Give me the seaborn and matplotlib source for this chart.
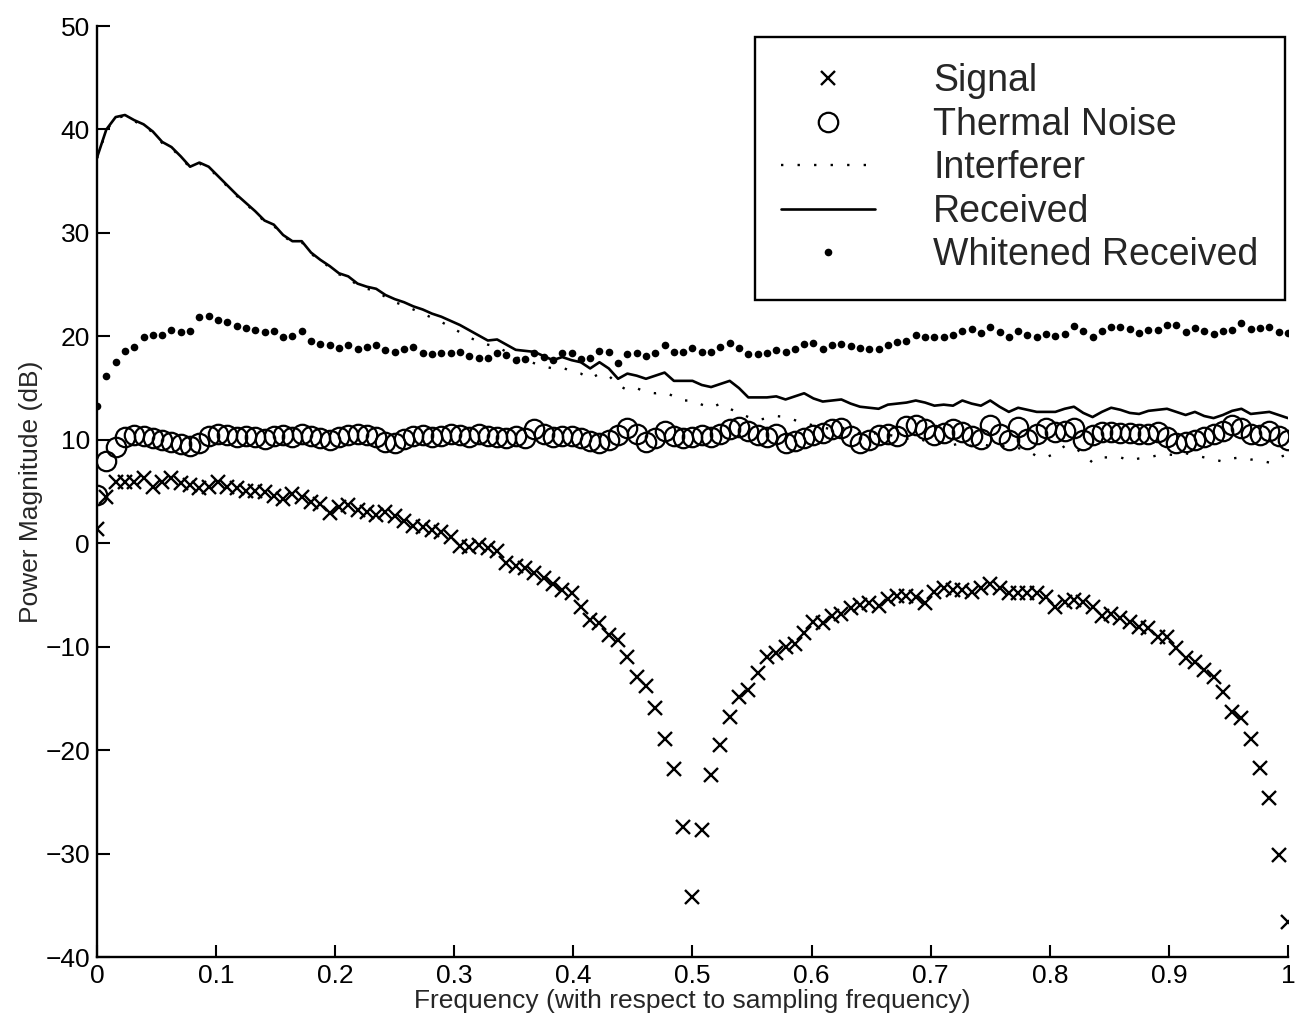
import numpy as np
import pandas as pd
import matplotlib
matplotlib.use('Agg')
import matplotlib.pyplot as plt
import seaborn as sns

# 129 frequency bins from 0 to 1 (normalised to the sampling frequency)
freq = np.linspace(0, 1, 129)

signal = [
    1.4, 4.5, 5.9, 5.9, 5.9, 6.3, 5.4, 5.9, 6.3, 5.8,
    5.6, 5.3, 5.4, 5.9, 5.4, 5.3, 5.1, 5.1, 5.0, 4.6,
    4.3, 4.8, 4.5, 4.0, 3.8, 2.9, 3.5, 3.7, 3.2, 3.0,
    2.7, 3.0, 2.6, 2.2, 1.7, 1.6, 1.3, 1.1, 0.6, -0.3,
    -0.4, -0.2, -0.5, -0.7, -1.9, -2.2, -2.4, -2.9, -3.4, -3.9,
    -4.5, -4.8, -6.2, -7.4, -7.7, -8.9, -9.4, -11.0, -12.9, -13.8,
    -15.9, -18.9, -21.8, -27.4, -34.2, -27.7, -22.4, -19.5, -16.8, -14.9,
    -14.2, -12.5, -11.0, -10.6, -10.0, -9.7, -8.7, -7.6, -7.7, -7.0,
    -6.8, -6.3, -6.0, -5.8, -6.1, -5.4, -5.1, -5.1, -5.2, -5.8,
    -4.7, -4.3, -4.5, -4.5, -4.7, -4.3, -3.9, -4.3, -4.8, -4.8,
    -4.8, -4.8, -5.2, -6.2, -5.7, -5.5, -5.7, -6.2, -7.0, -6.8,
    -7.2, -7.6, -8.1, -8.2, -9.1, -9.1, -10.1, -11.1, -11.5, -12.3,
    -12.9, -14.4, -16.3, -16.9, -18.9, -21.7, -24.6, -30.1, -36.6,
]

thermal = [
    4.7, 8.0, 9.3, 10.3, 10.5, 10.4, 10.2, 10.0, 9.8, 9.6,
    9.4, 9.7, 10.4, 10.6, 10.5, 10.3, 10.4, 10.3, 10.1, 10.4,
    10.5, 10.3, 10.6, 10.4, 10.2, 10.0, 10.3, 10.5, 10.6, 10.5,
    10.3, 9.8, 9.7, 10.1, 10.4, 10.5, 10.3, 10.4, 10.6, 10.5,
    10.3, 10.6, 10.4, 10.3, 10.2, 10.4, 10.2, 11.0, 10.6, 10.3,
    10.4, 10.4, 10.2, 9.9, 9.7, 10.0, 10.5, 11.1, 10.6, 9.8,
    10.2, 10.9, 10.4, 10.2, 10.3, 10.5, 10.3, 10.6, 11.0, 11.2,
    10.9, 10.5, 10.3, 10.6, 9.7, 9.9, 10.2, 10.5, 10.7, 11.0,
    11.1, 10.4, 9.7, 10.0, 10.5, 10.6, 10.4, 11.3, 11.4, 11.0,
    10.5, 10.7, 11.0, 10.8, 10.4, 10.1, 11.4, 10.6, 10.0, 11.2,
    10.1, 10.6, 11.1, 10.8, 10.9, 11.1, 10.0, 10.5, 10.8, 10.8,
    10.7, 10.7, 10.6, 10.6, 10.8, 10.3, 9.7, 9.8, 10.0, 10.3,
    10.6, 10.9, 11.4, 11.1, 10.6, 10.5, 10.9, 10.4, 10.0,
]

interferer = [
    37.2, 39.9, 41.1, 41.3, 40.8, 40.4, 39.7, 38.7, 38.2, 37.3,
    36.3, 36.7, 36.3, 35.4, 34.5, 33.6, 32.8, 32.0, 31.1, 30.7,
    29.7, 29.1, 29.1, 28.0, 27.3, 26.7, 26.0, 25.7, 24.9, 24.6,
    24.4, 23.8, 23.3, 23.0, 22.6, 22.2, 21.8, 21.4, 20.9, 20.4,
    19.9, 19.5, 19.2, 19.0, 18.5, 18.0, 17.7, 17.4, 17.1, 16.9,
    17.0, 16.6, 16.4, 15.9, 16.4, 16.2, 15.3, 14.8, 15.0, 14.6,
    14.5, 14.6, 14.2, 13.8, 13.8, 13.4, 13.1, 13.5, 13.0, 12.6,
    12.2, 11.9, 12.1, 12.3, 12.2, 11.9, 11.6, 11.4, 11.2, 11.0,
    11.2, 10.9, 10.6, 10.5, 10.7, 10.5, 10.3, 10.1, 10.2, 9.9,
    9.6, 9.8, 9.5, 9.7, 9.4, 9.6, 9.4, 9.3, 9.5, 9.2,
    9.0, 8.4, 8.3, 8.7, 9.4, 9.3, 8.6, 7.8, 8.3, 8.3,
    8.3, 8.0, 8.2, 8.3, 8.5, 8.6, 8.5, 8.7, 8.5, 8.3,
    8.1, 7.9, 8.2, 8.3, 8.1, 8.0, 7.8, 8.3, 8.6,
]

received = [
    37.3, 40.0, 41.2, 41.4, 40.9, 40.5, 39.8, 38.8, 38.3, 37.4,
    36.4, 36.8, 36.4, 35.5, 34.6, 33.7, 32.9, 32.1, 31.2, 30.8,
    29.8, 29.2, 29.2, 28.1, 27.4, 26.8, 26.1, 25.8, 25.1, 24.8,
    24.6, 24.0, 23.6, 23.3, 22.9, 22.6, 22.2, 21.9, 21.5, 21.1,
    20.6, 20.1, 19.6, 19.7, 19.2, 18.7, 18.6, 18.5, 18.1, 17.7,
    18.0, 17.7, 17.5, 16.9, 17.5, 16.9, 15.9, 16.4, 16.2, 15.9,
    16.2, 16.5, 15.7, 15.7, 15.7, 15.3, 15.1, 15.4, 15.7, 15.0,
    14.1, 14.1, 14.1, 14.2, 13.9, 14.2, 14.5, 14.0, 13.7, 13.8,
    13.9, 13.5, 13.2, 13.1, 13.0, 13.4, 13.5, 13.6, 13.8, 13.6,
    13.3, 13.4, 13.3, 13.8, 13.5, 13.3, 13.8, 13.2, 12.7, 13.1,
    12.9, 12.7, 12.7, 12.7, 13.0, 13.2, 12.6, 12.2, 12.7, 13.1,
    12.9, 12.6, 12.5, 12.8, 12.9, 13.0, 12.7, 12.4, 12.7, 12.3,
    12.1, 12.4, 12.8, 13.0, 12.5, 12.6, 12.7, 12.4, 12.1,
]

whitened = [
    13.3, 16.2, 17.5, 18.6, 19.0, 19.9, 20.1, 20.1, 20.6, 20.4,
    20.5, 21.9, 22.0, 21.6, 21.4, 21.0, 20.8, 20.6, 20.4, 20.5,
    19.9, 20.0, 20.5, 19.6, 19.3, 19.2, 18.9, 19.2, 18.8, 19.0,
    19.2, 18.7, 18.5, 18.8, 19.0, 18.4, 18.3, 18.4, 18.4, 18.5,
    18.1, 17.9, 17.9, 18.4, 18.2, 17.7, 17.8, 18.4, 18.0, 17.7,
    18.4, 18.4, 17.8, 17.9, 18.6, 18.5, 17.4, 18.3, 18.4, 18.1,
    18.4, 19.2, 18.5, 18.5, 18.9, 18.5, 18.5, 19.0, 19.4, 18.9,
    18.3, 18.3, 18.4, 18.7, 18.5, 18.8, 19.3, 19.4, 18.8, 19.2,
    19.3, 19.1, 18.9, 18.8, 18.8, 19.2, 19.5, 19.6, 20.1, 19.9,
    19.9, 19.9, 20.1, 20.5, 20.7, 20.3, 20.9, 20.4, 19.9, 20.5,
    20.1, 19.9, 20.2, 20.0, 20.2, 21.0, 20.5, 19.9, 20.5, 20.9,
    20.9, 20.7, 20.3, 20.6, 20.6, 21.1, 21.1, 20.4, 20.8, 20.5,
    20.2, 20.5, 20.6, 21.3, 20.7, 20.8, 20.9, 20.4, 20.3,
]

df = pd.DataFrame({'freq': freq, 'signal': signal, 'thermal': thermal,
                   'interferer': interferer, 'received': received,
                   'whitened': whitened})

sns.set_style('white')
plt.rcParams['font.family'] = ['Liberation Sans', 'DejaVu Sans']

fig = plt.figure(figsize=(12.99, 10.25), dpi=100)
ax = fig.add_axes([0.0747, 0.0663, 0.9168, 0.9083])

sns.lineplot(x='freq', y='signal', data=df, ax=ax, color='black', linestyle='',
             marker='x', markersize=10, markeredgewidth=1.7,
             markeredgecolor='black', label='Signal')
sns.lineplot(x='freq', y='thermal', data=df, ax=ax, color='black', linestyle='',
             marker='o', markersize=14, markerfacecolor='none',
             markeredgecolor='black', markeredgewidth=1.6, label='Thermal Noise')
sns.lineplot(x='freq', y='interferer', data=df, ax=ax, color='black',
             linewidth=1.7, label='Interferer')
ax.lines[-1].set_linestyle((0, (1, 6)))
sns.lineplot(x='freq', y='received', data=df, ax=ax, color='black',
             linewidth=1.9, label='Received')
sns.lineplot(x='freq', y='whitened', data=df, ax=ax, color='black', linestyle='',
             marker='o', markersize=5.5, markeredgewidth=0,
             markeredgecolor='black', label='Whitened Received')

ax.set_xlim(0, 1)
ax.set_ylim(-40, 50)
ax.set_xticks(np.arange(0, 1.01, 0.1))
ax.set_xticklabels(['0', '0.1', '0.2', '0.3', '0.4', '0.5', '0.6', '0.7',
                    '0.8', '0.9', '1'])
ax.set_yticks(np.arange(-40, 51, 10))
ax.set_xlabel('Frequency (with respect to sampling frequency)', fontsize=19,
              labelpad=1)
ax.set_ylabel('Power Magnitude (dB)', fontsize=19, labelpad=2)
ax.tick_params(direction='in', length=9, width=1.5, labelsize=19, pad=5,
               bottom=True, left=True, colors='black')

for side in ['top', 'right']:
    ax.spines[side].set_visible(False)
for side in ['left', 'bottom']:
    ax.spines[side].set_color('black')
    ax.spines[side].set_linewidth(1.7)

leg = ax.legend(loc='upper left', bbox_to_anchor=(0.5525, 0.988), fontsize=27,
                frameon=True, fancybox=False, framealpha=1, edgecolor='black',
                handlelength=2.5, handletextpad=1.55, labelspacing=0.2,
                borderpad=0.7, borderaxespad=0)
leg.get_frame().set_linewidth(1.7)

fig.savefig('out.png', dpi=100)
